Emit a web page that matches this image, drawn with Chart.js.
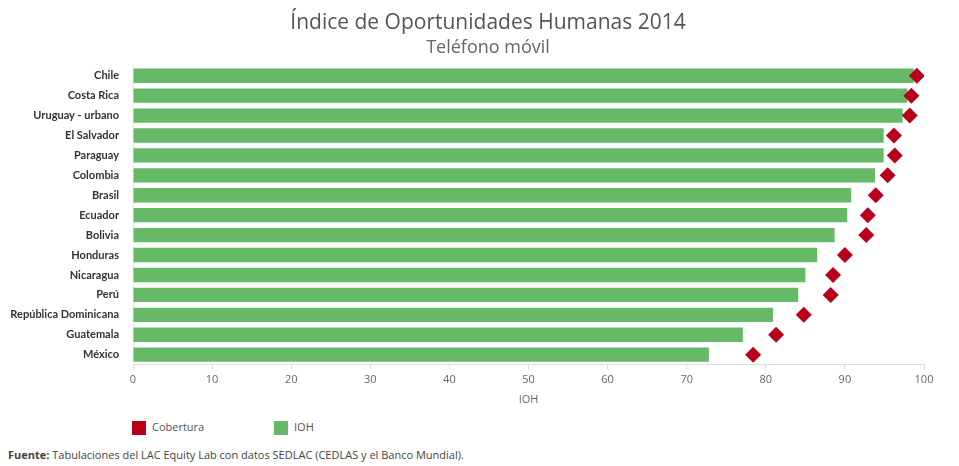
<!DOCTYPE html>
<html>
<head>
<meta charset="utf-8">
<script src="https://cdn.jsdelivr.net/npm/chart.js@4.4.0/dist/chart.umd.min.js"></script>
<style>
    body { margin: 0; background: #fff; font-family: "Open Sans", sans-serif; }
    #wrap { position: absolute; left: 0; top: 0; width: 959px; height: 410px; }
    .legend { position: absolute; top: 419px; font-size: 11px; color: #555; }
    .legend span.box { display: inline-block; width: 14px; height: 14px; vertical-align: middle; margin-right: 6px; }
    #footer { position: absolute; left: 8px; top: 447px; font-size: 11px; color: #444; }
</style>
</head>
<body>
<div id="wrap"><canvas id="chart"></canvas></div>
<div class="legend" style="left:132px"><span class="box" style="background:#b8001c"></span>Cobertura</div>
<div class="legend" style="left:274px"><span class="box" style="background:#66b966"></span>IOH</div>
<div id="footer"><b>Fuente:</b> Tabulaciones del LAC Equity Lab con datos SEDLAC (CEDLAS y el Banco Mundial).</div>

<script>
// Data
const countries = ['Chile', 'Costa Rica', 'Uruguay - urbano', 'El Salvador', 'Paraguay', 'Colombia', 'Brasil',
    'Ecuador', 'Bolivia', 'Honduras', 'Nicaragua', 'Perú', 'República Dominicana', 'Guatemala', 'México'];
const ioh = [98.7, 97.9, 97.3, 94.9, 94.9, 93.8, 90.8, 90.3, 88.7, 86.5, 85.0, 84.1, 80.9, 77.1, 72.8];
const cobertura = [99.1, 98.4, 98.2, 96.2, 96.3, 95.4, 93.9, 92.9, 92.7, 90.0, 88.5, 88.2, 84.8, 81.3, 78.4];
const xTicks = [0, 10, 20, 30, 40, 50, 60, 70, 80, 90, 100];

const GREEN = '#66b966';
const RED = '#b8001c';

// the original centres its titles a bit right of the canvas middle
const shiftTitles = {
    id: 'shiftTitles',
    afterLayout(chart) {
        chart.boxes.forEach(b => {
            if (b.options && b.options.text !== undefined && b.position === 'top') b.left = 52;
        });
    }
};

document.addEventListener('DOMContentLoaded', () => {
    const ctx = document.getElementById('chart').getContext('2d');
    new Chart(ctx, {
        type: 'bar',
        data: {
            labels: countries,
            datasets: [
                {
                    type: 'line',
                    label: 'Cobertura',
                    data: cobertura,
                    showLine: false,
                    pointStyle: 'rectRot',
                    pointRadius: 8,
                    pointHoverRadius: 8,
                    backgroundColor: RED,
                    borderColor: RED,
                    borderWidth: 0,
                    order: 0
                },
                {
                    label: 'IOH',
                    data: ioh,
                    backgroundColor: GREEN,
                    barPercentage: 0.72,
                    categoryPercentage: 1,
                    order: 1
                }
            ]
        },
        plugins: [shiftTitles],
        options: {
            indexAxis: 'y',
            responsive: true,
            maintainAspectRatio: false,
            animation: false,
            layout: { padding: { left: 0, right: 35, top: 0, bottom: 4 } },
            plugins: {
                legend: { display: false },
                tooltip: { enabled: false },
                title: {
                    display: true,
                    text: 'Índice de Oportunidades Humanas 2014',
                    color: '#555',
                    font: { family: 'Open Sans', size: 21, weight: 'normal' },
                    padding: { top: 10, bottom: 2 }
                },
                subtitle: {
                    display: true,
                    text: 'Teléfono móvil',
                    color: '#666',
                    font: { family: 'Open Sans', size: 18 },
                    padding: { top: 0, bottom: 7 }
                }
            },
            scales: {
                x: {
                    min: 0,
                    max: 100,
                    afterBuildTicks: scale => { scale.ticks = xTicks.map(v => ({ value: v })); },
                    grid: { drawOnChartArea: false, drawTicks: true, tickLength: 5, color: '#ddd' },
                    border: { color: '#ddd' },
                    ticks: { color: '#666', font: { family: 'Open Sans', size: 11 }, padding: 4 },
                    title: { display: true, text: 'IOH', color: '#666', font: { family: 'Open Sans', size: 11 }, padding: { top: 2, bottom: 0 } }
                },
                y: {
                    grid: { display: false },
                    border: { color: '#e6e6e6' },
                    afterFit: scale => { scale.width = 133; },
                    ticks: { color: '#333', font: { family: 'Lato', size: 11, weight: 'bold' }, padding: 6 }
                }
            }
        }
    });
});
</script>
</body>
</html>
